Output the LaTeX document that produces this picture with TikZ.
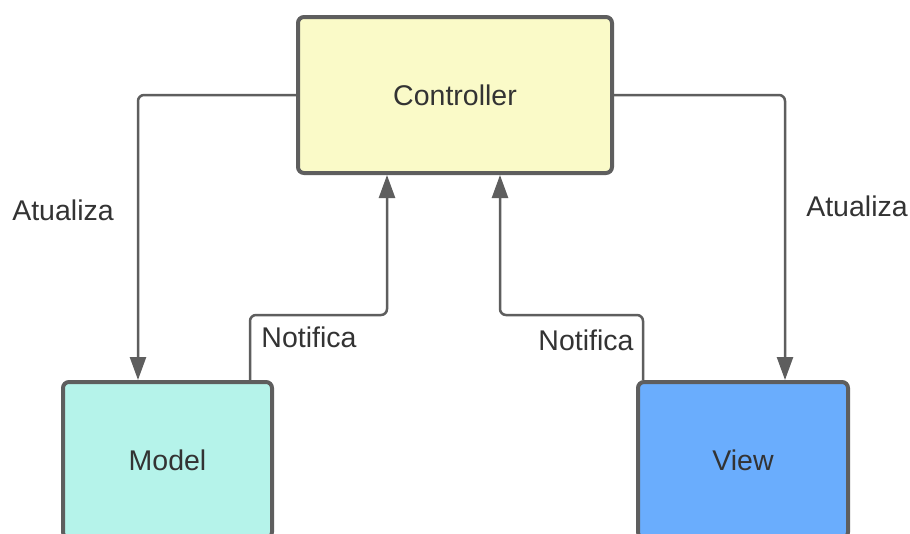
\documentclass[tikz,border=0pt]{standalone}
\usepackage{fontspec}
\setmainfont{Liberation Sans}
\usetikzlibrary{arrows.meta}

\definecolor{edgegray}{HTML}{5E5E5E}
\definecolor{txtgray}{HTML}{333333}
\definecolor{ctrlfill}{HTML}{FAFAC8}
\definecolor{modelfill}{HTML}{B5F3EA}
\definecolor{viewfill}{HTML}{6AADFD}

\tikzset{
  box/.style={draw=edgegray, line width=4pt, rounded corners=6pt,
    text=txtgray, font=\fontsize{28.5}{34}\selectfont, inner sep=0pt},
  conn/.style={draw=edgegray, line width=2.5pt, rounded corners=6pt,
    -{Triangle[length=23pt,width=16pt]}},
  lbl/.style={text=txtgray, font=\fontsize{28.5}{34}\selectfont, inner sep=0pt}
}

\begin{document}
\begin{tikzpicture}[x=1pt, y=-1pt]
  \useasboundingbox (0,0) rectangle (910,533);
  \clip (0,0) rectangle (910,533);
  \fill[white] (0,0) rectangle (910,533);

  % the three components
  \node[box, fill=ctrlfill, minimum width=314pt, minimum height=156pt] (ctrl) at (455,95) {Controller};
  \node[box, fill=modelfill, minimum width=209pt, minimum height=156pt] (model) at (167.5,460) {Model};
  \node[box, fill=viewfill, minimum width=210pt, minimum height=156pt] (view) at (743,460) {View};

  % controller updates model and view
  \draw[conn] (ctrl.west) -| ([xshift=77pt]model.north west);
  \draw[conn] (ctrl.east) -| ([xshift=149pt]view.north west);

  % model and view notify the controller
  \draw[conn] ([xshift=189pt]model.north west) -- ++(0,-65) -| ([xshift=91pt]ctrl.south west);
  \draw[conn] ([xshift=7pt]view.north west) -- ++(0,-65) -| ([xshift=204pt]ctrl.south west);

  % connector labels
  \node[lbl] (lupd) at (63,210) {Atualiza};
  \node[lbl] (rupd) at (857,206) {Atualiza};
  \node[lbl] (lnot) at (309,337) {Notifica};
  \node[lbl] (rnot) at (586,340) {Notifica};
\end{tikzpicture}
\end{document}
